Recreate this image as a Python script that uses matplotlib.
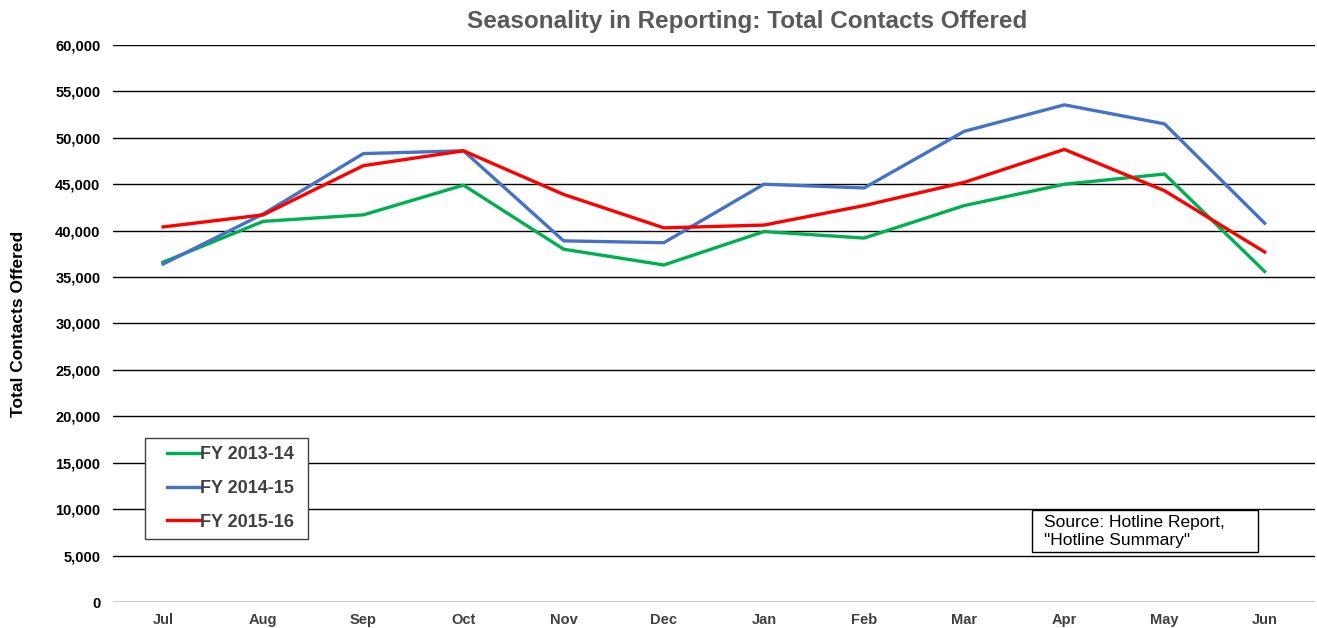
import matplotlib
matplotlib.use("Agg")
import matplotlib.pyplot as plt
from matplotlib.patches import Rectangle
from matplotlib.ticker import FuncFormatter

plt.rcParams['font.family'] = ['Liberation Sans', 'DejaVu Sans']

months = ["Jul", "Aug", "Sep", "Oct", "Nov", "Dec", "Jan", "Feb", "Mar", "Apr", "May", "Jun"]
fy1314 = [36600, 41000, 41700, 44900, 38000, 36300, 39900, 39200, 42700, 45000, 46100, 35600]
fy1415 = [36400, 41800, 48300, 48600, 38900, 38700, 45000, 44600, 50700, 53550, 51500, 40800]
fy1516 = [40400, 41700, 47000, 48600, 43900, 40300, 40600, 42700, 45200, 48750, 44300, 37700]
yticks = list(range(0, 60001, 5000))

fig = plt.figure(figsize=(13.17, 6.28), dpi=100)
ax = fig.add_axes([0.0858, 0.0414, 0.9125, 0.8870])

x = range(len(months))
ax.plot(x, fy1314, color="#00B050", lw=2.4, label="FY 2013-14")
ax.plot(x, fy1415, color="#4472C4", lw=2.4, label="FY 2014-15")
ax.plot(x, fy1516, color="#FF0000", lw=2.4, label="FY 2015-16")

ax.set_xlim(-0.5, len(months) - 0.5)
ax.set_ylim(0, 60000)
ax.set_yticks(yticks)
ax.yaxis.set_major_formatter(FuncFormatter(lambda v, p: f"{int(v):,}"))
ax.set_xticks(list(x))
ax.set_xticklabels(months)
ax.grid(axis="y", color="black", lw=1.0)
ax.set_axisbelow(True)
for s in ax.spines.values():
    s.set_visible(False)
ax.tick_params(length=0, labelsize=10.5)
ax.tick_params(axis="x", pad=8, labelcolor="#404040")
ax.tick_params(axis="y", pad=9)
for lab in ax.get_xticklabels() + ax.get_yticklabels():
    lab.set_fontweight("bold")

ax.set_ylabel("Total Contacts Offered", fontsize=12.5, fontweight="bold")
ax.yaxis.set_label_coords(-0.072, 0.5)
fig.text(0.567, 0.966, "Seasonality in Reporting: Total Contacts Offered",
         ha="center", va="center", fontsize=17.5, fontweight="bold", color="#595959")

# legend box drawn by hand so its padding can match the original
ax.add_patch(Rectangle((0.0266, 0.1131), 0.1354, 0.1813, transform=ax.transAxes,
                       facecolor="white", edgecolor="#404040", lw=1.0, zorder=4))
leg = ax.legend(loc="upper left", bbox_to_anchor=(0.039, 0.2926), frameon=False,
                handlelength=1.8, handletextpad=0.05,
                labelspacing=0.93, borderpad=0.4, borderaxespad=0,
                prop={"size": 13, "weight": "bold"})
leg.set_zorder(5)
for t in leg.get_texts():
    t.set_color("#404040")

ax.add_patch(Rectangle((0.765, 0.0896), 0.1877, 0.0754, transform=ax.transAxes,
                       facecolor="white", edgecolor="black", lw=1.0, zorder=5))
ax.text(0.775, 0.157, "Source: Hotline Report,\n\"Hotline Summary\"", transform=ax.transAxes,
        ha="left", va="top", fontsize=12.5, linespacing=1.25, zorder=6)

fig.savefig("out.png", dpi=100)
